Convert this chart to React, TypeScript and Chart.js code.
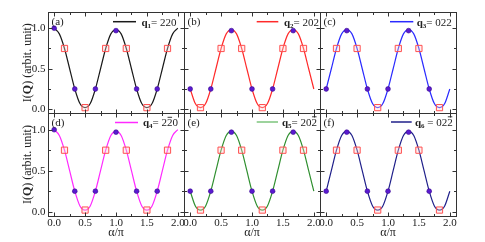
import React, { useEffect, useRef } from "react";
import { Chart, registerables } from "chart.js";

Chart.register(...registerables);

// ---- data ----
const alpha = [
  0, 0.0833, 0.1667, 0.25, 0.3333, 0.4167, 0.5, 0.5833, 0.6667, 0.75, 0.8333, 0.9167,
  1.0, 1.0833, 1.1667, 1.25, 1.3333, 1.4167, 1.5, 1.5833, 1.6667, 1.75, 1.8333, 1.9167, 2.0,
];
const dotAlpha = [0, 0.3333, 0.6667, 1.0, 1.3333, 1.6667];
const squareAlpha = [0.1667, 0.5, 0.8333, 1.1667, 1.5, 1.8333];

const curveA = [1.0, 0.93, 0.75, 0.5, 0.25, 0.07, 0.02, 0.07, 0.25, 0.5, 0.75, 0.93, 0.98, 0.93, 0.75, 0.5, 0.25, 0.07, 0.02, 0.07, 0.25, 0.5, 0.75, 0.93, 1.0];
const dotsA = [1.0, 0.25, 0.25, 0.97, 0.25, 0.25];
const squaresA = [0.75, 0.02, 0.75, 0.75, 0.02, 0.75];

const curveB = [0.25, 0.07, 0.02, 0.07, 0.25, 0.5, 0.75, 0.93, 0.98, 0.93, 0.75, 0.5, 0.25, 0.07, 0.02, 0.07, 0.25, 0.5, 0.75, 0.93, 0.98, 0.93, 0.75, 0.5, 0.25];
const dotsB = [0.25, 0.25, 0.97, 0.25, 0.25, 0.97];
const squaresB = [0.02, 0.75, 0.75, 0.02, 0.75, 0.75];

const curveC = [0.25, 0.5, 0.75, 0.93, 0.98, 0.93, 0.75, 0.5, 0.25, 0.07, 0.02, 0.07, 0.25, 0.5, 0.75, 0.93, 0.98, 0.93, 0.75, 0.5, 0.25, 0.07, 0.02, 0.07, 0.25];
const dotsC = [0.25, 0.97, 0.25, 0.25, 0.97, 0.25];
const squaresC = [0.75, 0.75, 0.02, 0.75, 0.75, 0.02];

const xTicks = [0, 0.25, 0.5, 0.75, 1.0, 1.25, 1.5, 1.75, 2.0];
const xTickLabels = [0, 0.5, 1.0, 1.5, 2.0];
const yTicks = [0, 0.25, 0.5, 0.75, 1.0];
const yTickLabels = [0, 0.5, 1.0];

const panelLabels = ["(a)", "(b)", "(c)", "(d)", "(e)", "(f)"];
const qIndices = ["1", "2", "3", "4", "5", "6"];
const qDigits = ["220", "202", "022", "220", "202", "022"];
const qBars = [-1, -1, -1, 1, 2, 2];

// ---- layout / style ----
const W = 485;
const H = 242;
const COLS = [
  [48, 184],
  [184, 320],
  [320, 456],
];
const ROWS = [
  [12, 113.3],
  [113.3, 215.8],
];
const SERIF = "'Liberation Serif', 'Times New Roman', serif";
const INK = "#222";

type Panel = {
  idx: number;
  row: number;
  col: number;
  color: string;
  legendColor: string;
  curve: number[];
  dots: number[];
  squares: number[];
  legend: { x1: number; x2: number; tx: number; y: number; spaceBeforeEq: boolean };
};

const panels: Panel[] = [
  { idx: 0, row: 0, col: 0, color: "#1a1a1a", legendColor: "#1a1a1a", curve: curveA, dots: dotsA, squares: squaresA, legend: { x1: 113, x2: 136, tx: 141.5, y: 21.7, spaceBeforeEq: false } },
  { idx: 1, row: 0, col: 1, color: "#ff2a2a", legendColor: "#ff2a2a", curve: curveB, dots: dotsB, squares: squaresB, legend: { x1: 256.7, x2: 278.3, tx: 284, y: 21.7, spaceBeforeEq: false } },
  { idx: 2, row: 0, col: 2, color: "#2a2aff", legendColor: "#2a2aff", curve: curveC, dots: dotsC, squares: squaresC, legend: { x1: 390, x2: 413.3, tx: 416.7, y: 21.7, spaceBeforeEq: false } },
  { idx: 3, row: 1, col: 0, color: "#ff2aff", legendColor: "#ff2aff", curve: curveA, dots: dotsA, squares: squaresA, legend: { x1: 115, x2: 138, tx: 143, y: 122.5, spaceBeforeEq: false } },
  { idx: 4, row: 1, col: 1, color: "#2f8f2f", legendColor: "#7cc47c", curve: curveB, dots: dotsB, squares: squaresB, legend: { x1: 256.7, x2: 278, tx: 282, y: 122, spaceBeforeEq: false } },
  { idx: 5, row: 1, col: 2, color: "#1f1f8a", legendColor: "#1f1f8a", curve: curveC, dots: dotsC, squares: squaresC, legend: { x1: 391, x2: 411.7, tx: 415, y: 122, spaceBeforeEq: true } },
];

type Piece = { text: string; font: string; dy?: number; bar?: boolean };

function drawPieces(ctx: CanvasRenderingContext2D, pieces: Piece[], x: number, y: number, align: "left" | "center") {
  let total = 0;
  const widths = pieces.map((p) => {
    ctx.font = p.font;
    const w = ctx.measureText(p.text).width;
    total += w;
    return w;
  });
  let cx = align === "center" ? x - total / 2 : x;
  pieces.forEach((p, i) => {
    ctx.font = p.font;
    ctx.textAlign = "left";
    ctx.fillText(p.text, cx, y + (p.dy || 0));
    if (p.bar) {
      ctx.save();
      ctx.lineWidth = 0.9;
      ctx.beginPath();
      ctx.moveTo(cx + 0.5, y - 9);
      ctx.lineTo(cx + widths[i] - 0.5, y - 9);
      ctx.stroke();
      ctx.restore();
    }
    cx += widths[i];
  });
}

function makeDeco(p: Panel) {
  return {
    id: "deco" + p.idx,
    afterDraw(chart: any) {
      const ctx: CanvasRenderingContext2D = chart.ctx;
      const xs = chart.scales.x;
      const ys = chart.scales.y;
      const { left, right, top, bottom } = chart.chartArea;
      ctx.save();
      ctx.strokeStyle = "#333";
      ctx.fillStyle = INK;
      ctx.lineWidth = 1;
      const L = Math.round(left) + 0.5;
      const R = Math.round(right) + 0.5;
      const T = Math.round(top) + 0.5;
      const B = Math.round(bottom) + 0.5;
      ctx.strokeRect(L, T, R - L, B - T);
      ctx.beginPath();
      xTicks.forEach((v) => {
        const px = Math.round(xs.getPixelForValue(v)) + 0.5;
        const len = Math.abs(v * 2 - Math.round(v * 2)) < 1e-6 ? 4 : 2.5;
        ctx.moveTo(px, B);
        ctx.lineTo(px, B - len);
        ctx.moveTo(px, T);
        ctx.lineTo(px, T + len);
      });
      yTicks.forEach((v) => {
        const py = Math.round(ys.getPixelForValue(v)) + 0.5;
        const len = Math.abs(v * 2 - Math.round(v * 2)) < 1e-6 ? 4 : 2.5;
        ctx.moveTo(L, py);
        ctx.lineTo(L + len, py);
        ctx.moveTo(R, py);
        ctx.lineTo(R - len, py);
      });
      ctx.stroke();

      // tick labels
      ctx.font = `11px ${SERIF}`;
      if (p.col === 0) {
        ctx.textAlign = "right";
        ctx.textBaseline = "middle";
        yTickLabels.forEach((v) => ctx.fillText(v.toFixed(1), left - 2.5, ys.getPixelForValue(v)));
        // y title
        ctx.save();
        ctx.translate(28, (top + bottom) / 2);
        ctx.rotate(-Math.PI / 2);
        ctx.textBaseline = "middle";
        drawPieces(
          ctx,
          [
            { text: "I(", font: `12px ${SERIF}` },
            { text: "Q", font: `bold 12px ${SERIF}` },
            { text: ") (arbit. unit)", font: `12px ${SERIF}` },
          ],
          0,
          0,
          "center"
        );
        ctx.restore();
      }
      if (p.row === 1) {
        ctx.font = `11px ${SERIF}`;
        ctx.textAlign = "center";
        ctx.textBaseline = "top";
        xTickLabels.forEach((v) => ctx.fillText(v.toFixed(1), xs.getPixelForValue(v), bottom + 1.5));
        ctx.font = `12px ${SERIF}`;
        ctx.textBaseline = "middle";
        ctx.fillText("α/π", (left + right) / 2, 233);
      }

      // panel label
      ctx.font = `11px ${SERIF}`;
      ctx.textAlign = "left";
      ctx.textBaseline = "middle";
      ctx.fillText(panelLabels[p.idx], left + 3.5, top + 10);

      // legend
      const lg = p.legend;
      ctx.strokeStyle = p.legendColor;
      ctx.lineWidth = 1.5;
      ctx.beginPath();
      ctx.moveTo(lg.x1, lg.y);
      ctx.lineTo(lg.x2, lg.y);
      ctx.stroke();
      ctx.strokeStyle = INK;
      ctx.fillStyle = INK;
      ctx.textBaseline = "alphabetic";
      const digits = qDigits[p.idx].split("");
      const pieces: Piece[] = [
        { text: "q", font: `bold 11px ${SERIF}` },
        { text: qIndices[p.idx], font: `bold 7px ${SERIF}`, dy: 2 },
        { text: (lg.spaceBeforeEq ? " " : "") + "= ", font: `11px ${SERIF}` },
        ...digits.map((d, i) => ({ text: d, font: `11px ${SERIF}`, bar: i === qBars[p.idx] })),
      ];
      drawPieces(ctx, pieces, lg.tx, lg.y + 3.8, "left");
      ctx.restore();
    },
  };
}

function PanelChart({ p }: { p: Panel }) {
  const ref = useRef<HTMLCanvasElement | null>(null);
  useEffect(() => {
    if (!ref.current) return;
    const [cl, cr] = COLS[p.col];
    const [rt, rb] = ROWS[p.row];
    const chart = new Chart(ref.current, {
      type: "line",
      data: {
        datasets: [
          {
            data: alpha.map((a, i) => ({ x: a, y: p.curve[i] })),
            borderColor: p.color,
            borderWidth: 1.2,
            pointRadius: 0,
            cubicInterpolationMode: "monotone",
            fill: false,
            order: 3,
          },
          {
            data: squareAlpha.map((a, i) => ({ x: a, y: p.squares[i] })),
            showLine: false,
            pointStyle: "rect",
            pointRadius: 4.4,
            pointBorderColor: "#ff5050",
            pointBackgroundColor: "rgba(255,210,210,0.35)",
            pointBorderWidth: 1,
            order: 2,
          },
          {
            data: dotAlpha.map((a, i) => ({ x: a, y: p.dots[i] })),
            showLine: false,
            pointStyle: "circle",
            pointRadius: 2.4,
            pointBorderColor: "#3a0a90",
            pointBackgroundColor: "#5a1ad0",
            pointBorderWidth: 0.6,
            order: 1,
          },
        ] as any,
      },
      options: {
        animation: false,
        responsive: false,
        devicePixelRatio: 1,
        events: [],
        layout: { padding: { left: cl, right: W - cr, top: rt, bottom: H - rb } },
        plugins: { legend: { display: false }, tooltip: { enabled: false } },
        scales: {
          x: { type: "linear", min: -0.1, max: 2.1, display: false },
          y: { type: "linear", min: -0.05, max: 1.2, display: false },
        },
      } as any,
      plugins: [makeDeco(p)],
    });
    return () => chart.destroy();
  }, [p]);
  return (
    <canvas
      ref={ref}
      width={W}
      height={H}
      style={{ position: "absolute", left: 0, top: 0, width: W, height: H }}
    />
  );
}

export default function App() {
  return (
    <div style={{ position: "fixed", left: 0, top: 0, width: W, height: H, background: "#fff" }}>
      {panels.map((p) => (
        <PanelChart key={p.idx} p={p} />
      ))}
    </div>
  );
}
